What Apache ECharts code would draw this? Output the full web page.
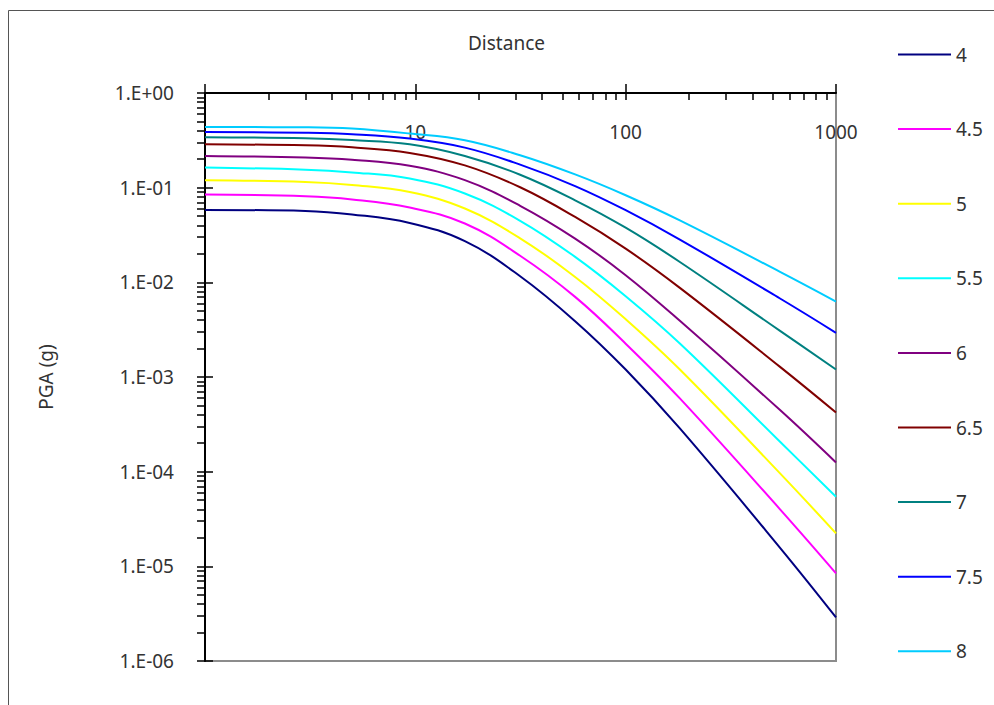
<!DOCTYPE html>
<html>
<head>
<meta charset="utf-8">
<script src="https://cdn.jsdelivr.net/npm/echarts@6/dist/echarts.min.js"></script>
<style>
  html, body { margin: 0; background: #fff; }
  #chart { width: 994px; height: 705px; }
</style>
</head>
<body>
<div id="chart"></div>
<script>
const distances = [1, 3, 5, 9.4, 17.2, 31.5, 57.5, 100, 181, 542, 1000];

// PGA (g) per magnitude
const pgaM40 = [0.0582, 0.0568, 0.0522, 0.0424, 0.0272, 0.0116, 0.00389, 0.00120, 0.000286, 0.0000157, 0.00000289];
const pgaM45 = [0.0846, 0.0812, 0.0752, 0.0617, 0.0418, 0.0191, 0.00702, 0.00225, 0.000594, 0.0000400, 0.00000844];
const pgaM50 = [0.120, 0.115, 0.107, 0.0901, 0.0602, 0.0292, 0.0114, 0.00408, 0.00120, 0.0000959, 0.0000223];
const pgaM55 = [0.163, 0.155, 0.145, 0.125, 0.0867, 0.0447, 0.0186, 0.00714, 0.00226, 0.000207, 0.0000543];
const pgaM60 = [0.216, 0.208, 0.197, 0.170, 0.120, 0.0644, 0.0290, 0.0119, 0.00392, 0.000447, 0.000125];
const pgaM65 = [0.287, 0.280, 0.267, 0.233, 0.172, 0.101, 0.0491, 0.0227, 0.00874, 0.00128, 0.000422];
const pgaM70 = [0.341, 0.332, 0.318, 0.287, 0.216, 0.137, 0.0736, 0.0378, 0.0164, 0.00307, 0.00120];
const pgaM75 = [0.388, 0.380, 0.367, 0.330, 0.265, 0.175, 0.104, 0.0578, 0.0283, 0.00675, 0.00293];
const pgaM80 = [0.437, 0.434, 0.421, 0.373, 0.317, 0.220, 0.138, 0.0832, 0.0451, 0.0129, 0.00627];

const magnitudes = ["4", "4.5", "5", "5.5", "6", "6.5", "7", "7.5", "8"];
const pgaSets = [pgaM40, pgaM45, pgaM50, pgaM55, pgaM60, pgaM65, pgaM70, pgaM75, pgaM80];
const colors = ["#000080", "#ff00ff", "#ffff00", "#00ffff", "#800080", "#800000", "#008080", "#0000ff", "#00ccff"];

// minor tick values for the log axes
const xMinorTicks = [2, 3, 4, 5, 6, 7, 8, 9, 20, 30, 40, 50, 60, 70, 80, 90, 200, 300, 400, 500, 600, 700, 800, 900];
const yTickDecades = [1e-6, 1e-5, 1e-4, 1e-3, 1e-2, 1e-1];

const FONT = "Noto Sans";
const TEXT = "#333";

const yMinorTicks = [];
yTickDecades.forEach((d) => {
  for (let k = 1; k <= 9; k++) yMinorTicks.push(Math.log10(d * k));
});
yMinorTicks.push(0);

const chart = echarts.init(document.getElementById("chart"), null, { renderer: "svg" });

chart.setOption({
  backgroundColor: "#fff",
  animation: false,
  color: colors,
  textStyle: { fontFamily: FONT },
  title: {
    text: "Distance",
    left: 468,
    top: 33,
    padding: 0,
    textStyle: { fontSize: 19, fontWeight: "normal", color: TEXT, fontFamily: FONT }
  },
  legend: {
    orient: "vertical",
    left: 893,
    top: 40,
    itemWidth: 53,
    itemHeight: 14,
    itemGap: 55.6,
    icon: "path://M0,6 L53,6 L53,8 L0,8 Z",
    textStyle: { fontSize: 19, color: TEXT, fontFamily: FONT },
    data: magnitudes
  },
  grid: {
    left: 205, top: 93, right: 158, bottom: 44,
    show: true,
    borderColor: "#8c8c8c",
    borderWidth: 2,
    backgroundColor: "transparent"
  },
  graphic: [{
    type: "rect",
    shape: { x: 8.5, y: 10.5, width: 1100, height: 800 },
    style: { fill: "none", stroke: "#555", lineWidth: 1 },
    silent: true
  }],
  xAxis: [
    {
      type: "log",
      logBase: 10,
      min: 1,
      max: 1000,
      position: "top",
      axisLine: { onZero: false, lineStyle: { color: "#000", width: 2 } },
      axisTick: { inside: false, length: 9, lineStyle: { color: "#000", width: 1.5 } },
      axisLabel: {
        inside: true,
        margin: 29,
        fontSize: 19,
        color: TEXT,
        fontFamily: FONT,
        formatter: (v) => (Math.round(v) === 1 ? "" : String(Math.round(v)))
      },
      splitLine: { show: false }
    },
    {
      type: "value",
      min: 0,
      max: 3,
      position: "top",
      axisLine: { show: false, onZero: false },
      axisTick: { inside: true, length: 7, customValues: xMinorTicks.map(Math.log10).concat([1, 2]), lineStyle: { color: "#000", width: 1.5 } },
      axisLabel: { show: false },
      splitLine: { show: false }
    }
  ],
  yAxis: [
    {
      type: "log",
      logBase: 10,
      min: 1e-6,
      max: 1,
      interval: 1,
      position: "left",
      name: "PGA (g)",
      nameLocation: "middle",
      nameRotate: 90,
      nameGap: 150,
      nameTextStyle: { fontSize: 19, color: TEXT, fontFamily: FONT },
      axisLine: { onZero: false, lineStyle: { color: "#000", width: 2 } },
      axisTick: { inside: true, length: 8, lineStyle: { color: "#000", width: 1.5 } },
      axisLabel: {
        margin: 31,
        fontSize: 19,
        color: TEXT,
        fontFamily: FONT,
        formatter: (v) => {
          const e = Math.round(Math.log10(v));
          const s = e < 0 ? "-" : "+";
          return "1.E" + s + String(Math.abs(e)).padStart(2, "0");
        }
      },
      splitLine: { show: false }
    },
    {
      type: "value",
      min: -6,
      max: 0,
      position: "left",
      axisLine: { show: false, onZero: false },
      axisTick: { inside: false, length: 8, customValues: yMinorTicks, lineStyle: { color: "#000", width: 1.5 } },
      axisLabel: { show: false },
      splitLine: { show: false }
    }
  ],
  series: magnitudes.map((m, i) => ({
    name: m,
    type: "line",
    xAxisIndex: 0,
    yAxisIndex: 0,
    symbol: "none",
    smooth: 0.4,
    lineStyle: { width: 2, color: colors[i] },
    itemStyle: { color: colors[i] },
    data: distances.map((d, j) => [d, pgaSets[i][j]])
  }))
});
</script>
</body>
</html>
